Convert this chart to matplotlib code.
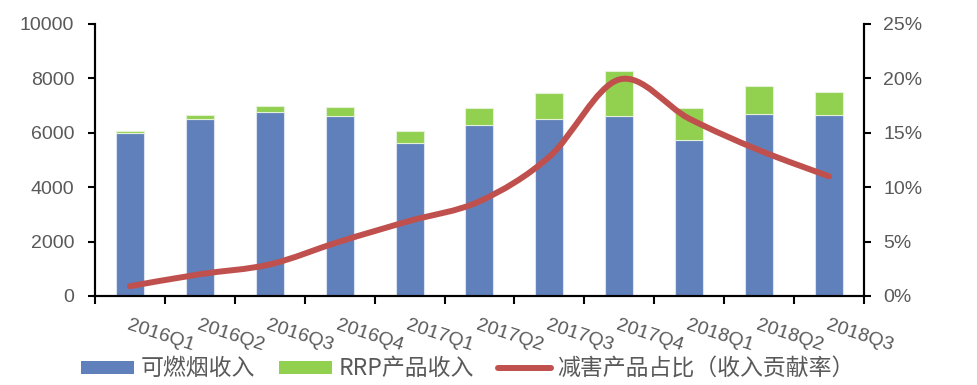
import numpy as np
import matplotlib
matplotlib.use("Agg")
import matplotlib.pyplot as plt
from matplotlib.path import Path
from matplotlib.patches import PathPatch, Patch
from matplotlib.lines import Line2D
from matplotlib.ticker import FuncFormatter

# data
quarters = ["2016Q1", "2016Q2", "2016Q3", "2016Q4", "2017Q1", "2017Q2",
            "2017Q3", "2017Q4", "2018Q1", "2018Q2", "2018Q3"]
combustible = [6000, 6520, 6750, 6630, 5610, 6290, 6520, 6630, 5750, 6700, 6670]
rrp = [75, 140, 230, 330, 440, 625, 945, 1650, 1150, 1020, 830]
rrp_share = [0.9, 2.0, 2.9, 5.0, 6.9, 8.7, 12.8, 19.9, 16.3, 13.4, 11.0]

BLUE = "#6080BC"
GREEN = "#92D050"
RED = "#C0504D"
GREY = "#595959"

plt.rcParams["font.family"] = ["Liberation Sans", "Noto Sans CJK SC", "DejaVu Sans"]


def smooth_path(x, y):
    """Excel-like smoothed line: cubic bezier through every point."""
    x = np.asarray(x, float)
    y = np.asarray(y, float)
    pts = np.column_stack([x, y])
    verts = [pts[0]]
    codes = [Path.MOVETO]
    n = len(pts)
    for i in range(n - 1):
        p0 = pts[i - 1] if i > 0 else pts[i]
        p1 = pts[i]
        p2 = pts[i + 1]
        p3 = pts[i + 2] if i + 2 < n else pts[i + 1]
        c1 = p1 + (p2 - p0) / 6.0
        c2 = p2 - (p3 - p1) / 6.0
        verts += [c1, c2, p2]
        codes += [Path.CURVE4] * 3
    return Path(verts, codes)


fig = plt.figure(figsize=(9.78, 3.85), dpi=100)
ax = fig.add_axes([0.0971, 0.2312, 0.7863, 0.7065])
ax2 = ax.twinx()

x = np.arange(len(quarters))
ax.bar(x, combustible, width=0.4, color=BLUE, edgecolor="#dbe3f1", linewidth=0.8, zorder=2)
ax.bar(x, rrp, width=0.4, bottom=combustible, color=GREEN, edgecolor="#e3f2d4",
       linewidth=0.8, zorder=2)

line = PathPatch(smooth_path(x, rrp_share), facecolor="none", edgecolor=RED,
                 linewidth=4.3, capstyle="round", joinstyle="round", zorder=3)
ax2.add_patch(line)

ax.set_xlim(-0.5, len(quarters) - 0.5)
ax.set_ylim(0, 10000)
ax2.set_ylim(0, 25)

ax.set_yticks(np.arange(0, 10001, 2000))
ax2.set_yticks(np.arange(0, 26, 5))
ax2.yaxis.set_major_formatter(FuncFormatter(lambda v, p: f"{v:.0f}%"))

# category boundaries carry the tick marks, labels sit on the centres
ax.set_xticks(np.arange(-0.5, len(quarters), 1.0))
ax.set_xticklabels([])
ax.set_xticks(x, minor=True)
ax.set_xticklabels(quarters, minor=True)
ax.tick_params(axis="x", which="minor", length=0, pad=15, labelsize=14, labelcolor=GREY)
for lbl in ax.get_xticklabels(minor=True):
    lbl.set_rotation(-18)
    lbl.set_rotation_mode("anchor")
    lbl.set_ha("left")
    lbl.set_va("top")

ax.tick_params(axis="x", which="major", length=6, width=1.5, direction="out")
ax.tick_params(axis="y", length=5, width=1.5, labelsize=14, labelcolor=GREY, pad=10)
ax2.tick_params(axis="y", length=5, width=1.5, labelsize=14, labelcolor=GREY, pad=9)

for a in (ax, ax2):
    a.spines["top"].set_visible(False)
    for s in ("left", "right", "bottom"):
        a.spines[s].set_linewidth(1.5)

handles = [
    Patch(facecolor=BLUE, edgecolor="none"),
    Patch(facecolor=GREEN, edgecolor="none"),
    Line2D([0], [0], color=RED, linewidth=4.3, solid_capstyle="round"),
]
labels = ["可燃烟收入", "RRP产品收入", "减害产品占比（收入贡献率）"]
fig.legend(handles, labels, loc="center", bbox_to_anchor=(0.4785, 0.042), ncol=3,
           frameon=False, handlelength=2.3, handleheight=0.5,
           handletextpad=0.3, columnspacing=1.05, labelcolor=GREY,
           prop={"family": ["Noto Sans CJK SC", "DejaVu Sans"], "size": 16.5})

fig.savefig("out.png", dpi=100)
